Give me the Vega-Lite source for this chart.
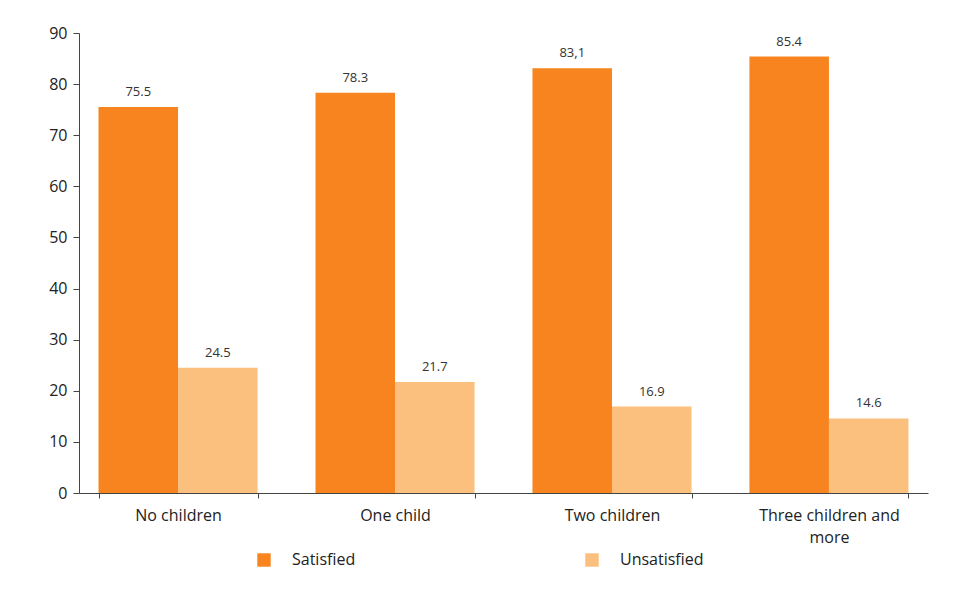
{
  "$schema": "https://vega.github.io/schema/vega-lite/v6.json",
  "width": 849,
  "height": 460,
  "autosize": {"type": "none"},
  "padding": {"left": 79, "top": 33, "right": 37, "bottom": 99},
  "background": "white",
  "data": {
    "values": [
      {"group": "No children", "status": "Satisfied", "value": 75.5, "label": "75.5"},
      {"group": "No children", "status": "Unsatisfied", "value": 24.5, "label": "24.5"},
      {"group": "One child", "status": "Satisfied", "value": 78.3, "label": "78.3"},
      {"group": "One child", "status": "Unsatisfied", "value": 21.7, "label": "21.7"},
      {"group": "Two children", "status": "Satisfied", "value": 83.1, "label": "83,1"},
      {"group": "Two children", "status": "Unsatisfied", "value": 16.9, "label": "16.9"},
      {"group": "Three children and more", "status": "Satisfied", "value": 85.4, "label": "85.4"},
      {"group": "Three children and more", "status": "Unsatisfied", "value": 14.6, "label": "14.6"}
    ]
  },
  "encoding": {
    "x": {
      "field": "group",
      "type": "nominal",
      "sort": null,
      "title": null,
      "scale": {"paddingInner": 0.267, "paddingOuter": 0.09},
      "axis": {
        "labelAngle": 0,
        "tickBand": "extent",
        "tickSize": 5,
        "labelPadding": 9,
        "labelFont": "Open Sans",
        "labelFontSize": 16,
        "labelColor": "#222",
        "labelLineHeight": 22,
        "domainColor": "#444",
        "tickColor": "#444",
        "labelExpr": "datum.value == 'Three children and more' ? ['Three children and', 'more'] : datum.value"
      }
    },
    "xOffset": {"field": "status", "type": "nominal"},
    "y": {
      "field": "value",
      "type": "quantitative",
      "title": null,
      "scale": {"domain": [0, 90]},
      "axis": {
        "values": [0, 10, 20, 30, 40, 50, 60, 70, 80, 90],
        "grid": false,
        "tickSize": 6,
        "labelPadding": 6,
        "labelFont": "Open Sans",
        "labelFontSize": 16,
        "labelColor": "#222",
        "domainColor": "#444",
        "tickColor": "#444"
      }
    }
  },
  "layer": [
    {
      "mark": {"type": "bar"},
      "encoding": {
        "color": {
          "field": "status",
          "type": "nominal",
          "title": null,
          "scale": {"domain": ["Satisfied", "Unsatisfied"], "range": ["#F7841F", "#FBC07E"]},
          "legend": {
            "orient": "none",
            "legendX": 177,
            "legendY": 519,
            "direction": "horizontal",
            "columns": 2,
            "columnPadding": 228,
            "symbolType": "square",
            "symbolSize": 180,
            "symbolStrokeWidth": 0,
            "labelOffset": 20,
            "labelFont": "Open Sans",
            "labelFontSize": 16,
            "labelColor": "#222"
          }
        }
      }
    },
    {
      "mark": {"type": "text", "baseline": "bottom", "dy": -8, "font": "Open Sans", "fontSize": 13, "color": "#333"},
      "encoding": {"text": {"field": "label"}}
    }
  ],
  "config": {"view": {"stroke": null}}
}
